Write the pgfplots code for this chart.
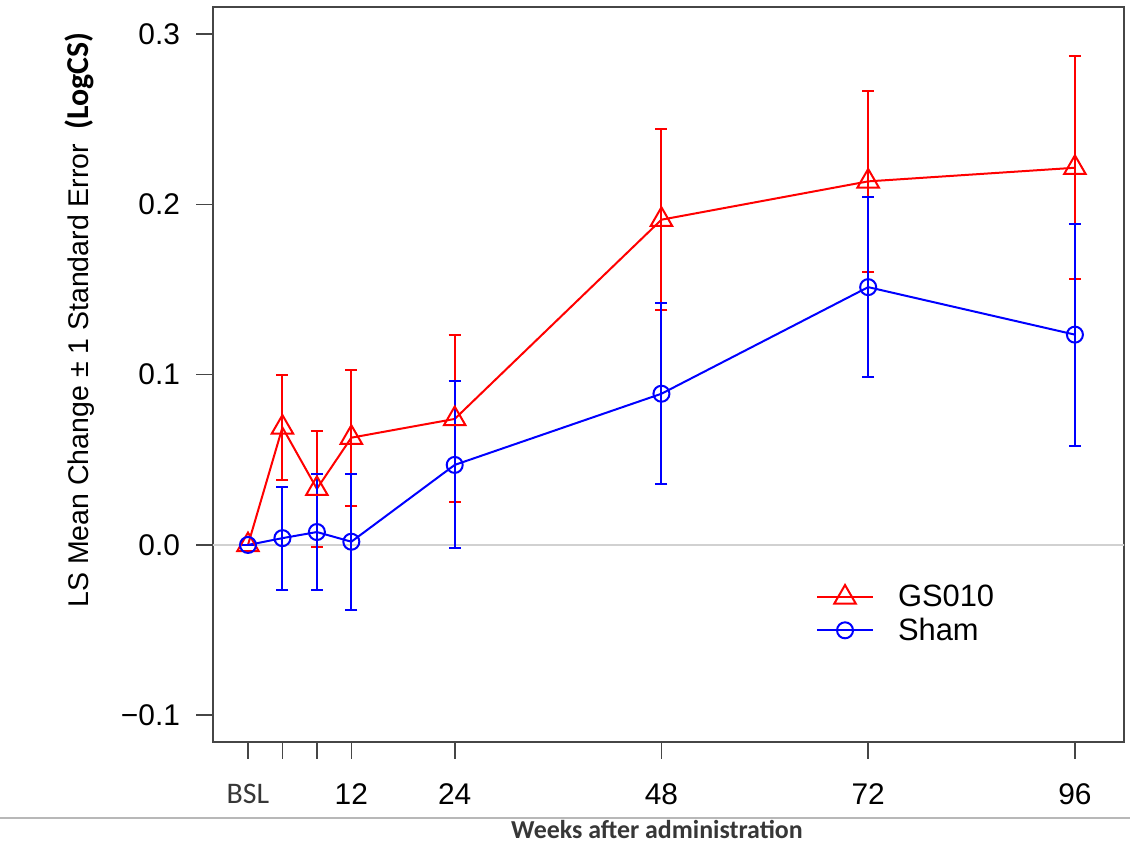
\documentclass[border=0pt]{standalone}
\usepackage{pgfplots}
\pgfplotsset{compat=1.18}
\usepackage{pgfplotstable}
\usepackage{fontspec}
\setmainfont{Liberation Sans}
\newfontfamily\carlito{Carlito}
\definecolor{rred}{RGB}{255,0,0}
\definecolor{rblue}{RGB}{0,0,255}
\definecolor{axgray}{RGB}{70,70,70}
\definecolor{lblgray}{RGB}{55,55,55}

\pgfplotstableread{
x y e
0 0.000 0.000
4 0.069 0.031
8 0.033 0.034
12 0.063 0.040
24 0.074 0.049
48 0.191 0.053
72 0.2135 0.053
96 0.2215 0.0655
}\gsdata

\pgfplotstableread{
x y e
0 0.000 0.000
4 0.004 0.0303
8 0.0076 0.034
12 0.0019 0.040
24 0.047 0.049
48 0.0888 0.053
72 0.1514 0.053
96 0.1235 0.0652
}\shamdata

\begin{document}
\begin{tikzpicture}
\path[use as bounding box] (0,0) rectangle (565bp,421.5bp);
\begin{axis}[
  at={(106.5bp,50.5bp)}, anchor=south west,
  scale only axis, width=455.5bp, height=367.5bp,
  xmin=-4.06, xmax=101.7, ymin=-0.1157, ymax=0.3159,
  axis line style={axgray, line width=0.8bp},
  tick style={axgray, line width=0.8bp},
  tick align=outside, major tick length=8.5bp,
  xtick={0,4,8,12,24,48,72,96},
  xticklabels={{\carlito\color{lblgray}BSL},,,12,24,48,72,96},
  ytick={-0.1,0,0.1,0.2,0.3},
  yticklabels={−0.1,0.0,0.1,0.2,0.3},
  tick label style={font=\fontsize{15}{17}\selectfont},
  xticklabel style={yshift=-9bp},
  yticklabel style={xshift=-4.5bp},
  xtick pos=bottom, ytick pos=left,
  legend style={at={(axis cs:65.9,-0.021)}, anchor=north west, draw=none, fill=none,
    font=\fontsize{15.5}{17}\selectfont, row sep=0bp, column sep=10bp, inner sep=0pt,
    nodes={inner sep=2pt}},
  legend cell align=left,
  legend image code/.code={\draw[mark repeat=2,mark phase=2,#1] plot coordinates {(0bp,0bp) (14bp,0bp) (28bp,0bp)};},
]
\addplot[black!18, line width=0.7bp, forget plot] coordinates {(-10,0) (110,0)};
\addplot[rred, line width=1bp, mark=triangle, mark size=6.2bp, mark options={solid},
  error bars/.cd, y dir=both, y explicit,
  error bar style={line width=1bp, draw=rred, color=rred},
  error mark options={rotate=90, mark size=3bp, line width=1bp, draw=rred, color=rred}]
  table[x=x, y=y, y error=e]{\gsdata};
\addlegendentry{GS010}
\addplot[rblue, line width=1bp, mark=o, mark size=4bp, mark options={solid},
  error bars/.cd, y dir=both, y explicit,
  error bar style={line width=1bp, draw=rblue, color=rblue},
  error mark options={rotate=90, mark size=3bp, line width=1bp, draw=rblue, color=rblue}]
  table[x=x, y=y, y error=e]{\shamdata};
\addlegendentry{Sham}
\end{axis}
\node[rotate=90, anchor=base west, inner sep=0pt] at (44bp,117.5bp)
  {\fontsize{14.3}{16}\selectfont LS Mean Change ± 1 Standard Error\hspace{7bp}{\carlito\bfseries\fontsize{16}{18}\selectfont (LogCS)}};
\draw[black!28, line width=0.6bp] (0,12.5bp) -- (565bp,12.5bp);
\node[anchor=base, inner sep=0pt, text=lblgray] at (328.5bp,2.5bp)
  {\carlito\bfseries\fontsize{13}{15}\selectfont Weeks after administration};
\end{tikzpicture}
\end{document}
